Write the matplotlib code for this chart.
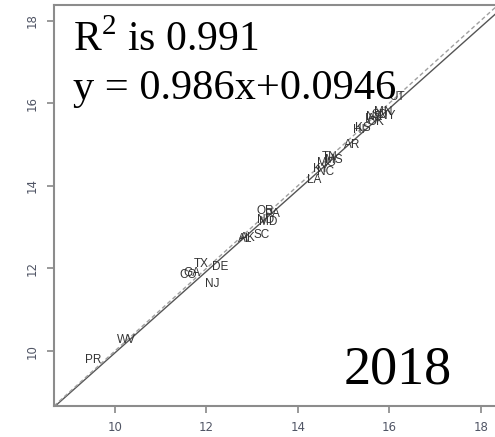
import matplotlib
matplotlib.use("Agg")
import matplotlib.pyplot as plt

# state labels and their (x, y) values
states = ["PR", "WV", "CO", "GA", "TX", "DE", "NJ", "AL", "AK", "SC",
          "MD", "ND", "OR", "PA", "LA", "NC", "KY", "MO", "MS", "TN",
          "AR", "HI", "KS", "IA", "NE", "OK", "SD", "MN", "NY", "UT"]
x_vals = [9.52, 10.26, 11.60, 11.68, 11.90, 12.30, 12.14, 12.85, 12.92, 13.22,
          13.35, 13.30, 13.30, 13.45, 14.37, 14.60, 14.50, 14.62, 14.78, 14.70,
          15.20, 15.33, 15.42, 15.60, 15.68, 15.72, 15.80, 15.88, 15.95, 16.16]
y_vals = [9.78, 10.26, 11.85, 11.88, 12.10, 12.03, 11.62, 12.72, 12.75, 12.82,
          13.12, 13.18, 13.38, 13.33, 14.15, 14.33, 14.40, 14.55, 14.62, 14.70,
          15.00, 15.35, 15.40, 15.62, 15.66, 15.55, 15.72, 15.78, 15.70, 16.15]

slope = 0.986
intercept = 0.0946
r2 = 0.991
year = "2018"
ticks = [10, 12, 14, 16, 18]
lim = (8.67, 18.38)

plt.rcParams['mathtext.fontset'] = 'custom'
plt.rcParams['mathtext.rm'] = 'Liberation Serif'

fig = plt.figure(figsize=(4.95, 4.37), dpi=100)
ax = fig.add_axes([54 / 495, 31 / 437, 444 / 495, 401 / 437])
ax.set_xlim(lim)
ax.set_ylim(lim)

# fitted line (solid) and identity line (dashed)
ax.plot(lim, [slope * v + intercept for v in lim], color="#555555", lw=1.0)
ax.plot(lim, lim, color="#a0a0a0", lw=1.0, ls=(0, (3, 2)))

for s, xv, yv in zip(states, x_vals, y_vals):
    ax.text(xv, yv, s, ha="center", va="center", fontsize=8.5,
            family="Liberation Sans", color="#333333")

serif = "Liberation Serif"
ax.text(0.042, 0.885, r"$\mathrm{R}^{2}$ is %.3f" % r2, transform=ax.transAxes,
        fontsize=30, family=serif, color="black")
ax.text(0.042, 0.765, "y = %.3fx+%.4f" % (slope, intercept), transform=ax.transAxes,
        fontsize=30.5, family=serif, color="black")
ax.text(0.653, 0.057, year, transform=ax.transAxes,
        fontsize=39, family=serif, color="black")

ax.set_xticks(ticks)
ax.set_yticks(ticks)
ax.tick_params(direction="out", length=5, width=1.2, color="#888888",
               labelsize=8.5, labelcolor="#505565", pad=6)
for lab in ax.get_yticklabels():
    lab.set_rotation(90)
    lab.set_va("center")
for sp in ax.spines.values():
    sp.set_color("#8c8c8c")
    sp.set_linewidth(1.5)
ax.spines["right"].set_visible(False)

fig.savefig("out.png", dpi=100)
